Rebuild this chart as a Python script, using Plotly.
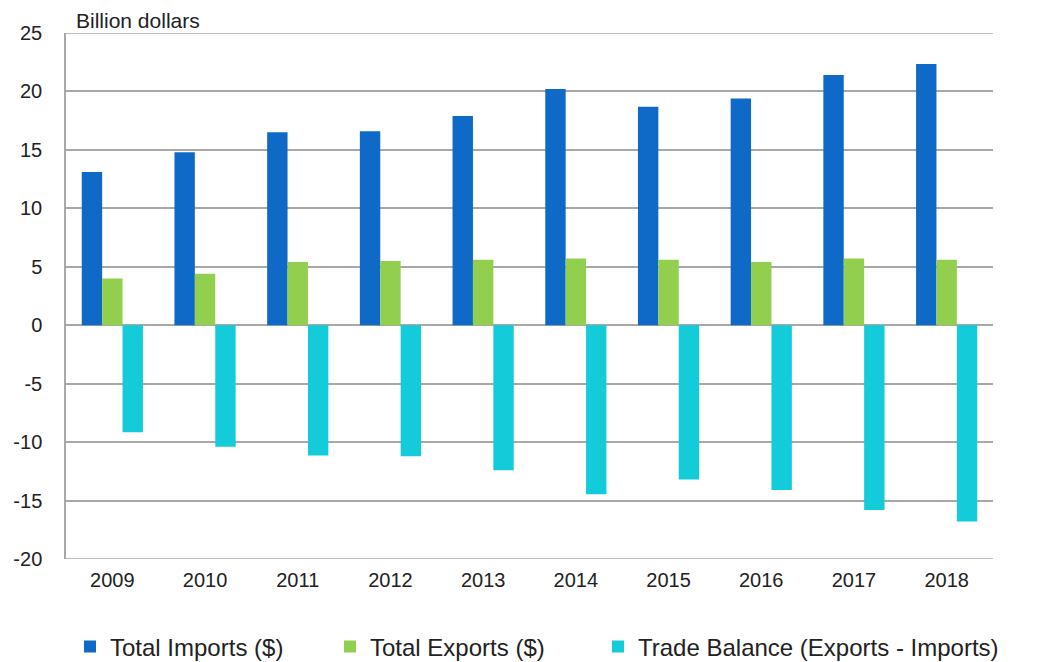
import plotly.graph_objects as go

# Annual trade figures, billion dollars
years = ["2009", "2010", "2011", "2012", "2013", "2014", "2015", "2016", "2017", "2018"]
total_imports = [13.1, 14.8, 16.5, 16.6, 17.9, 20.2, 18.7, 19.4, 21.4, 22.35]
total_exports = [4.0, 4.4, 5.4, 5.5, 5.6, 5.7, 5.6, 5.4, 5.7, 5.6]
trade_balance = [-9.15, -10.4, -11.15, -11.2, -12.4, -14.45, -13.2, -14.1, -15.8, -16.8]

y_ticks = [25, 20, 15, 10, 5, 0, -5, -10, -15, -20]

FONT = "Liberation Sans, Arial, sans-serif"
TEXT = "#222222"
GRID = "#a8a8a8"

W, H = 1042, 662
M_L, M_R, M_T, M_B = 66, 49, 33, 103
PLOT_W = W - M_L - M_R

fig = go.Figure()
fig.add_trace(go.Bar(x=years, y=total_imports, name="Total Imports ($)",
                     marker=dict(color="#0f6ac7", line=dict(width=0)), legend="legend"))
fig.add_trace(go.Bar(x=years, y=total_exports, name="Total Exports ($)",
                     marker=dict(color="#92cf4e", line=dict(width=0)), legend="legend2"))
fig.add_trace(go.Bar(x=years, y=trade_balance, name="Trade Balance (Exports - Imports)",
                     marker=dict(color="#13cbd9", line=dict(width=0)), legend="legend3"))


def legend_at(px):
    # one single-entry legend, left edge at a pixel column of the figure
    return dict(
        orientation="h", x=(px - M_L) / PLOT_W, xanchor="left",
        yref="container", y=(H - 647) / H, yanchor="middle",
        font=dict(family=FONT, size=24, color=TEXT),
        itemclick=False, itemdoubleclick=False,
        bgcolor="rgba(0,0,0,0)",
    )


# gridlines at the two ends of the value range (plotly skips edge gridlines)
edge_lines = [
    dict(type="line", xref="paper", x0=0, x1=1, yref="y", y0=v, y1=v,
         line=dict(color=GRID, width=1.5), layer="below")
    for v in (y_ticks[0], y_ticks[-1])
]

fig.update_layout(
    width=W, height=H,
    margin=dict(l=M_L, r=M_R, t=M_T, b=M_B, autoexpand=False),
    paper_bgcolor="white", plot_bgcolor="white",
    barmode="group", bargap=0.34, bargroupgap=0,
    font=dict(family=FONT, color=TEXT, size=19),
    showlegend=True,
    legend=legend_at(70),
    legend2=legend_at(330),
    legend3=legend_at(598),
    shapes=edge_lines,
    annotations=[dict(
        text="Billion dollars", xref="paper", yref="paper",
        x=(74 - M_L) / PLOT_W, y=1.0, xanchor="left", yanchor="bottom",
        yshift=-1, showarrow=False,
        font=dict(family=FONT, size=21, color=TEXT),
    )],
)

fig.update_xaxes(
    type="category", showgrid=False, zeroline=False,
    showline=False, ticks="", ticklabelstandoff=7,
    tickfont=dict(family=FONT, size=20, color=TEXT),
)
fig.update_yaxes(
    range=[-20, 25], tickvals=y_ticks, ticktext=[str(v) for v in y_ticks],
    showgrid=True, gridcolor=GRID, gridwidth=1.5,
    zeroline=True, zerolinecolor=GRID, zerolinewidth=1.5,
    showline=True, linecolor=GRID, linewidth=1.5, mirror=False,
    ticks="", ticklabelstandoff=18,
    tickfont=dict(family=FONT, size=20, color=TEXT),
)

fig.write_html("out.html")
